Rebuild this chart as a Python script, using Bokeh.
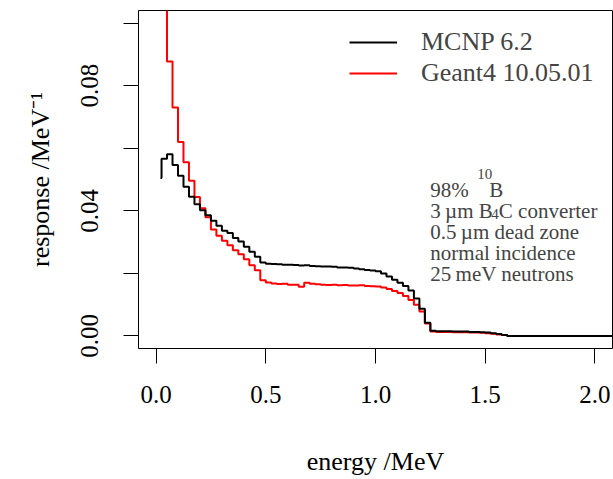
from bokeh.plotting import figure
from bokeh.models import Label, Legend, LegendItem, FixedTicker, PrintfTickFormatter, Range1d
from bokeh.embed import file_html
from bokeh.resources import INLINE

FONT = "Liberation Serif"

# ---- data -------------------------------------------------------------
bin_start = 0.025   # MeV, first bin edge
bin_width = 0.025   # MeV

mcnp_lead_energy = 0.02
mcnp_lead_value = 0.0505
mcnp_values = [
    0.0566, 0.0581, 0.0546, 0.0512, 0.0477, 0.0445, 0.0421, 0.0402, 0.0386, 0.0368,
    0.0352, 0.0336, 0.0329, 0.0313, 0.0302, 0.0285, 0.0269, 0.0253, 0.0235, 0.0231,
    0.0230, 0.0229, 0.0228, 0.0228, 0.0227, 0.0225, 0.0226, 0.0224, 0.0223, 0.0222,
    0.0222, 0.0221, 0.0219, 0.0219, 0.0218, 0.0216, 0.0213, 0.0211, 0.0209, 0.0207,
    0.0200, 0.0190, 0.0180, 0.0170, 0.0160, 0.0145, 0.0120, 0.0087, 0.0042, 0.0017,
    0.0015, 0.0015, 0.0015, 0.0014, 0.0014, 0.0014, 0.0013, 0.0013, 0.0012, 0.0011,
    0.0009, 0.0006, 0.0003, 0.0, 0.0, 0.0, 0.0, 0.0, 0.0, 0.0,
    0.0, 0.0, 0.0, 0.0, 0.0, 0.0, 0.0, 0.0, 0.0, 0.0,
    0.0, 0.0, 0.0,
]
geant4_values = [
    0.1400, 0.0877, 0.0730, 0.0620, 0.0555, 0.0496, 0.0444, 0.0408, 0.0379, 0.0340,
    0.0320, 0.0304, 0.0290, 0.0274, 0.0261, 0.0245, 0.0226, 0.0210, 0.0178, 0.0171,
    0.0168, 0.0166, 0.0167, 0.0164, 0.0164, 0.0157, 0.0170, 0.0167, 0.0165, 0.0164,
    0.0163, 0.0164, 0.0162, 0.0163, 0.0161, 0.0161, 0.0162, 0.0160, 0.0159, 0.0158,
    0.0155, 0.0150, 0.0144, 0.0137, 0.0128, 0.0115, 0.0100, 0.0078, 0.0040, 0.0014,
    0.0013, 0.0013, 0.0013, 0.0012, 0.0012, 0.0012, 0.0011, 0.0011, 0.0010, 0.0009,
    0.0007, 0.0005, 0.0003, 0.0, 0.0, 0.0, 0.0, 0.0, 0.0, 0.0,
    0.0, 0.0, 0.0, 0.0, 0.0, 0.0, 0.0, 0.0, 0.0,
]
series_labels = ["MCNP 6.2", "Geant4 10.05.01"]
x_ticks = [0.0, 0.5, 1.0, 1.5, 2.0]
y_ticks = [0.00, 0.04, 0.08]
y_minor_ticks = [0.02, 0.06, 0.10]
x_title = "energy /MeV"
y_title = "response /MeV\u207b\u00b9"


def step_xy(values, start, width):
    edges = [start + i * width for i in range(len(values) + 1)]
    return edges, list(values) + [values[-1]]


mx, my = step_xy(mcnp_values, bin_start, bin_width)
mx = [mcnp_lead_energy] + mx
my = [mcnp_lead_value] + my
gx, gy = step_xy(geant4_values, bin_start, bin_width)

# ---- figure -------------------------------------------------------------
p = figure(width=613, height=479, output_backend="svg", toolbar_location=None,
           x_range=Range1d(-0.08, 2.08), y_range=Range1d(-0.004, 0.104),
           min_border_left=138, min_border_right=1, min_border_top=10, min_border_bottom=131)
p.xgrid.grid_line_color = None
p.ygrid.grid_line_color = None
p.outline_line_color = "black"
p.outline_line_width = 1
p.background_fill_color = "white"
p.border_fill_color = "white"

r_red = p.step(gx, gy, mode="after", line_color="#ff0000", line_width=2)
r_black = p.step(mx, my, mode="after", line_color="black", line_width=2)

for ax in (p.xaxis[0], p.yaxis[0]):
    ax.axis_line_color = None
    ax.major_tick_line_color = "black"
    ax.minor_tick_line_color = "black"
    ax.major_tick_out = 15
    ax.major_tick_in = 0
    ax.minor_tick_in = 0
    ax.major_label_text_font = FONT
    ax.major_label_text_font_size = "25px"
    ax.major_label_text_color = "black"
    ax.axis_label_text_font = FONT
    ax.axis_label_text_font_size = "26px"
    ax.axis_label_text_font_style = "normal"
    ax.axis_label_text_color = "black"

p.xaxis.ticker = FixedTicker(ticks=x_ticks, minor_ticks=[])
p.xaxis.formatter = PrintfTickFormatter(format="%.1f")
p.xaxis.minor_tick_out = 0
p.xaxis.major_label_standoff = 22
p.xaxis.axis_label = x_title
p.xaxis.axis_label_standoff = 41

p.yaxis.ticker = FixedTicker(ticks=y_ticks, minor_ticks=y_minor_ticks)
p.yaxis.formatter = PrintfTickFormatter(format="%.2f")
p.yaxis.minor_tick_out = 15
p.yaxis.major_label_orientation = "vertical"
p.yaxis.major_label_standoff = 25
p.yaxis.axis_label = y_title
p.yaxis.axis_label_standoff = 24

# legend
legend = Legend(items=[LegendItem(label=series_labels[0], renderers=[r_black]),
                       LegendItem(label=series_labels[1], renderers=[r_red])],
                location=(211, 260), orientation="vertical", padding=0, spacing=1,
                glyph_width=48, glyph_height=30, label_height=30, label_standoff=24,
                label_text_font=FONT, label_text_font_size="26px",
                border_line_color=None, background_fill_alpha=0, margin=0)
p.add_layout(legend, "center")

# annotation text
ann_x = 1.25
ann_font = "21px"
ann_small = "15px"
lines_y = [0.0467, 0.0400, 0.0333, 0.0266, 0.0198]


def lab(text, y, xo=0, size=ann_font):
    p.add_layout(Label(x=ann_x, y=y, x_offset=xo, text=text, text_align="left",
                       text_baseline="alphabetic", text_font=FONT, text_font_size=size))


lab("98%", lines_y[0])
lab("10", 0.0518, 47, ann_small)
lab("B", lines_y[0], 59)
lab("3\u2009\u00b5m B", lines_y[1])
lab("4", 0.0390, 61, ann_small)
lab("C converter", lines_y[1], 68.5)
lab("0.5\u2009\u00b5m dead zone", lines_y[2])
lab("normal incidence", lines_y[3])
lab("25\u2009meV neutrons", lines_y[4])

open("out.html", "w").write(file_html(p, INLINE))
